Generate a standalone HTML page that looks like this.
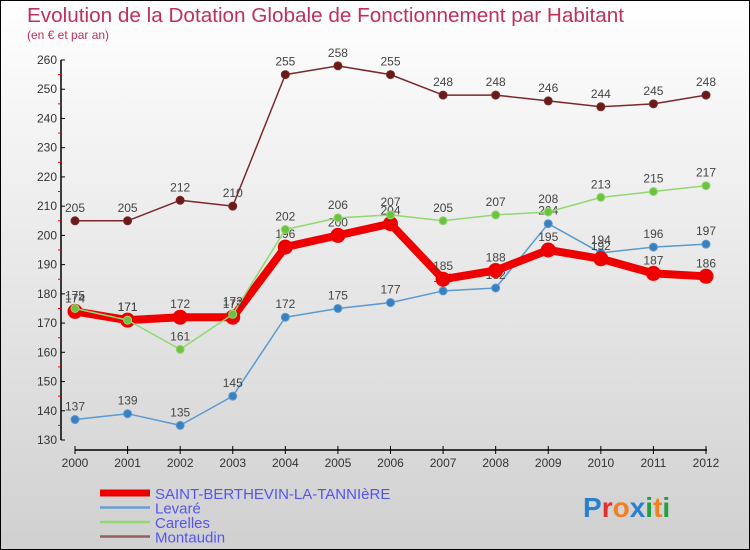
<!DOCTYPE html>
<html><head><meta charset="utf-8"><style>
body{margin:0;}
#c{width:750px;height:550px;position:relative;box-sizing:border-box;border:1px solid #000;background:linear-gradient(#ffffff,#d0d0d0);font-family:"Liberation Sans","DejaVu Sans",sans-serif;overflow:hidden}
</style></head><body>
<div id="c">
<svg id="s" width="750" height="550" style="position:absolute;left:-1px;top:-1px">
<text x="27" y="22" font-size="20" fill="#c0305a" textLength="597" lengthAdjust="spacingAndGlyphs">Evolution de la Dotation Globale de Fonctionnement par Habitant</text>
<text x="27" y="39" font-size="12" fill="#c0305a">(en € et par an)</text>
<g id="axes"></g>
<g id="series"></g>
<g id="legend"></g>
<text x="583" y="517" font-size="28" font-weight="bold"><tspan fill="#2a7fd0">P</tspan><tspan fill="#e03030">r</tspan><tspan fill="#f08020">o</tspan><tspan fill="#2a7fd0">x</tspan><tspan fill="#20a040">i</tspan><tspan fill="#f08020">t</tspan><tspan fill="#20a040">i</tspan></text>
</svg>
</div>
<script>
const years=["2000","2001","2002","2003","2004","2005","2006","2007","2008","2009","2010","2011","2012"];
const yTicks=[130,140,150,160,170,180,190,200,210,220,230,240,250,260];
const saint=[174,171,172,172,196,200,204,185,188,195,192,187,186];
const levare=[137,139,135,145,172,175,177,181,182,204,194,196,197];
const carelles=[175,171,161,173,202,206,207,205,207,208,213,215,217];
const montaudin=[205,205,212,210,255,258,255,248,248,246,244,245,248];
const NS="http://www.w3.org/2000/svg";
function X(i){return 75+i*(706-75)/12;}
function Y(v){return 440-(v-130)*(380/130);}
function mk(t,a,p){const e=document.createElementNS(NS,t);for(const k in a)e.setAttribute(k,a[k]);p.appendChild(e);return e;}
const ax=document.getElementById('axes');
let e=mk('line',{x1:61,y1:Y(260),x2:61,y2:Y(130),stroke:'#000','stroke-width':1.5},ax);

yTicks.forEach(v=>{mk('line',{x1:61,x2:65,y1:Y(v),y2:Y(v),stroke:'#000'},ax);
 if(v<260)mk('line',{x1:58,x2:61,y1:Y(v+5),y2:Y(v+5),stroke:'#e00'},ax);
 const t=mk('text',{x:57,y:Y(v)+4,'font-size':12,fill:'#333','text-anchor':'end'},ax);t.textContent=v;
 });
e=mk('line',{x1:75,y1:450,x2:707,y2:450,stroke:'#000','stroke-width':1.5},ax);

years.forEach((y,i)=>{mk('line',{x1:X(i),x2:X(i),y1:446,y2:454,stroke:'#000'},ax);
 const t=mk('text',{x:X(i),y:467,'font-size':12,fill:'#333','text-anchor':'middle'},ax);t.textContent=y;
 });
const sg=document.getElementById('series');
function draw(d,col,w,r,dot,name){
 const g=mk('g',{},sg);
 mk('polyline',{points:d.map((v,i)=>X(i)+','+Y(v)).join(' '),fill:'none',stroke:col,'stroke-width':w,'stroke-linejoin':'round'},g);
 d.forEach((v,i)=>{const c=mk('circle',{cx:X(i),cy:Y(v),r:r,fill:dot,stroke:col,'stroke-width':1},g);
  
  const t=mk('text',{x:X(i),y:Y(v)-9,'font-size':12,fill:'#444','text-anchor':'middle'},g);t.textContent=v;
  });
}
draw(montaudin,'#7a2a2a',1.5,4,'#6a1a1a','series-montaudin');
draw(levare,'#5a9ad0',1.5,4,'#3a80c0','series-levare');
draw(saint,'#ee0000',8,7,'#ee0000','series-saint-berthevin');
draw(carelles,'#90d870',1.5,4,'#70c040','series-carelles');
const lg=document.getElementById('legend');
const items=[["SAINT-BERTHEVIN-LA-TANNIèRE","#ee0000",7],["Levaré","#6aa0d0",2.5],["Carelles","#90d870",2.5],["Montaudin","#906060",2.5]];
items.forEach((it,k)=>{const yy=493+k*14.5;
 const g=mk('g',{},lg);
 mk('line',{x1:100,x2:150,y1:yy,y2:yy,stroke:it[1],'stroke-width':it[2]},g);
 const t=mk('text',{x:155,y:yy+6,'font-size':15,fill:'#5555ee'},g);t.textContent=it[0];});
</script>
</body></html>
